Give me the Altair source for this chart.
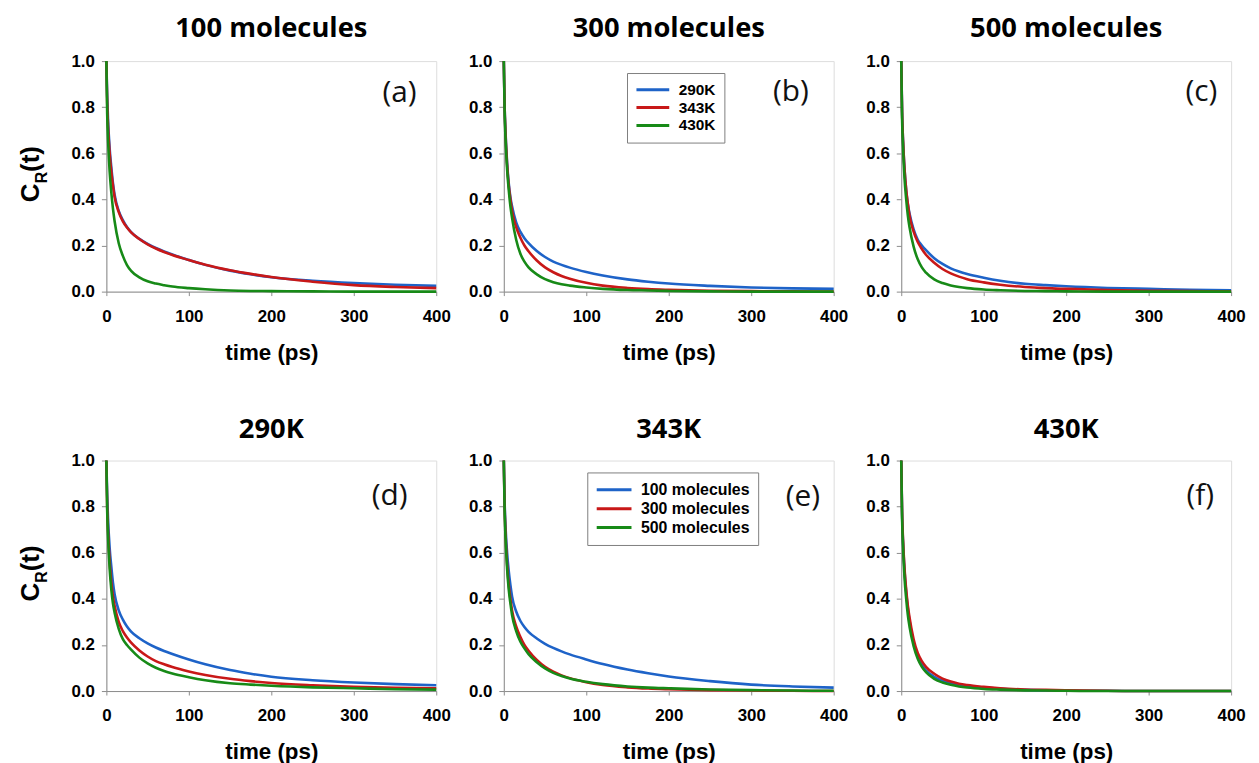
import altair as alt
import pandas as pd

# ---------------- data ----------------
T_PS = [0, 1, 2, 4, 6, 8, 10, 15, 20, 25, 30, 40, 50, 60, 70, 80, 100, 120, 150, 175, 200, 250, 300, 350, 400]

N100_T290 = [1.0, 0.85, 0.75, 0.62, 0.54, 0.47, 0.42, 0.35, 0.31, 0.28, 0.258, 0.229, 0.207, 0.189, 0.174, 0.161, 0.137, 0.116, 0.091, 0.075, 0.062, 0.047, 0.037, 0.03, 0.025]
N100_T343 = [1.0, 0.82, 0.72, 0.6, 0.52, 0.46, 0.41, 0.345, 0.305, 0.278, 0.257, 0.228, 0.205, 0.187, 0.172, 0.159, 0.137, 0.117, 0.093, 0.077, 0.063, 0.043, 0.028, 0.02, 0.015]
N100_T430 = [1.0, 0.77, 0.66, 0.52, 0.43, 0.36, 0.305, 0.21, 0.155, 0.115, 0.09, 0.062, 0.045, 0.035, 0.028, 0.022, 0.015, 0.01, 0.005, 0.003, 0.002, 0.001, 0.0, 0.0, 0.0]

N300_T290 = [1.0, 0.8, 0.7, 0.56, 0.47, 0.41, 0.37, 0.3, 0.26, 0.232, 0.21, 0.176, 0.15, 0.13, 0.116, 0.104, 0.085, 0.07, 0.053, 0.043, 0.035, 0.025, 0.018, 0.014, 0.012]
N300_T343 = [1.0, 0.8, 0.69, 0.55, 0.46, 0.4, 0.35, 0.28, 0.235, 0.2, 0.175, 0.135, 0.105, 0.084, 0.068, 0.056, 0.038, 0.026, 0.016, 0.011, 0.008, 0.004, 0.002, 0.001, 0.0]
N300_T430 = [1.0, 0.78, 0.67, 0.53, 0.44, 0.37, 0.32, 0.225, 0.165, 0.13, 0.105, 0.075, 0.054, 0.041, 0.032, 0.026, 0.018, 0.012, 0.007, 0.005, 0.003, 0.001, 0.0, 0.0, 0.0]

N500_T290 = [1.0, 0.78, 0.67, 0.53, 0.44, 0.38, 0.34, 0.27, 0.225, 0.2, 0.18, 0.145, 0.12, 0.101, 0.087, 0.076, 0.06, 0.047, 0.034, 0.028, 0.023, 0.016, 0.012, 0.008, 0.006]
N500_T343 = [1.0, 0.78, 0.67, 0.53, 0.44, 0.38, 0.33, 0.26, 0.215, 0.185, 0.16, 0.125, 0.098, 0.079, 0.065, 0.054, 0.04, 0.03, 0.02, 0.015, 0.012, 0.007, 0.004, 0.002, 0.001]
N500_T430 = [1.0, 0.75, 0.64, 0.49, 0.4, 0.33, 0.28, 0.195, 0.14, 0.105, 0.082, 0.053, 0.037, 0.027, 0.02, 0.015, 0.009, 0.006, 0.003, 0.002, 0.001, 0.0, 0.0, 0.0, 0.0]

MOLECULES = [100, 300, 500]
TEMPS = ["290K", "343K", "430K"]
MOL_LABELS = ["100 molecules", "300 molecules", "500 molecules"]
TOP_TITLES = ["100 molecules", "300 molecules", "500 molecules"]
BOTTOM_TITLES = ["290K", "343K", "430K"]
TAGS_TOP = ["(a)", "(b)", "(c)"]
TAGS_BOTTOM = ["(d)", "(e)", "(f)"]
X_TICKS = [0, 100, 200, 300, 400]
Y_TICKS = [0.0, 0.2, 0.4, 0.6, 0.8, 1.0]

CURVES = {
    (100, "290K"): N100_T290, (100, "343K"): N100_T343, (100, "430K"): N100_T430,
    (300, "290K"): N300_T290, (300, "343K"): N300_T343, (300, "430K"): N300_T430,
    (500, "290K"): N500_T290, (500, "343K"): N500_T343, (500, "430K"): N500_T430,
}
COLORS = ["#1e63c8", "#c81818", "#178a17"]

rows = []
for (n, temp), vals in CURVES.items():
    for t, v in zip(T_PS, vals):
        rows.append({"t": t, "mol": n, "temp": temp, "molname": f"{n} molecules", "c": v})
long_df = pd.DataFrame(rows)

# ---------------- styling ----------------
W, H = 332, 232
GRAY = "#8c8c8c"
AX_FONT = "Liberation Sans"

XAXIS = alt.Axis(values=X_TICKS, title="time (ps)", format="d", grid=False,
                 labelFont=AX_FONT, labelFontWeight="bold", labelFontSize=17, labelColor="black",
                 labelPadding=13, labelFlush=False, labelOverlap=False,
                 titleFont=AX_FONT, titleFontWeight="bold", titleFontSize=22.5, titleColor="black",
                 titlePadding=17, tickSize=4, tickColor=GRAY, domainColor=GRAY)
YAXIS = alt.Axis(values=Y_TICKS, title=None, format=".1f", grid=False,
                 labelFont=AX_FONT, labelFontWeight="bold", labelFontSize=17, labelColor="black",
                 labelPadding=7, labelFlush=False, labelOverlap=False,
                 tickSize=5, tickColor=GRAY, domainColor=GRAY)


def make_legend(lx, ly, fsize, line_len, row_step):
    return alt.Legend(orient="none", legendX=lx, legendY=ly, title=None, direction="vertical",
                      symbolType="stroke", symbolStrokeWidth=3, symbolSize=line_len * line_len,
                      clipHeight=row_step,
                      labelFont=AX_FONT, labelFontWeight="bold", labelFontSize=fsize,
                      labelColor="black", labelOffset=8, strokeColor="#7f7f7f",
                      fillColor="white", padding=8, rowPadding=0)


def panel(df, order, title, title_offset, tag, tag_x, tag_y, legend, ylab):
    layers = []
    for s in order:
        layers.append(
            alt.Chart(df).transform_filter(alt.datum.series == s)
            .mark_line(strokeWidth=2.6, interpolate="monotone")
            .encode(
                x=alt.X("t:Q", scale=alt.Scale(domain=[0, 400], nice=False), axis=XAXIS),
                y=alt.Y("c:Q", scale=alt.Scale(domain=[0, 1], nice=False), axis=YAXIS),
                color=alt.Color("series:N", scale=alt.Scale(domain=order, range=COLORS),
                                legend=legend),
            )
        )
    layers.append(
        alt.Chart(pd.DataFrame({"tag": [tag]}))
        .mark_text(font="Open Sans", fontSize=30, align="center", baseline="middle", color="#111")
        .encode(x=alt.value(tag_x), y=alt.value(tag_y), text="tag:N")
    )
    if ylab:
        for txt, fs, xx, yy in [("C", 26, -68, 142), ("R", 16, -60, 123), ("(t)", 26, -68, 111.5)]:
            layers.append(
                alt.Chart(pd.DataFrame({"s": [txt]}))
                .mark_text(font=AX_FONT, fontWeight="bold", fontSize=fs, angle=270,
                           align="left", baseline="alphabetic", color="black")
                .encode(x=alt.value(xx), y=alt.value(yy), text="s:N")
            )
    return alt.layer(*layers).properties(
        width=W, height=H,
        title=alt.TitleParams(text=title, font="Open Sans", fontWeight="bold", fontSize=27.5,
                              color="black", anchor="middle", offset=title_offset),
    )


top_tag_pos = [(295, 32), (289, 31), (302, 31)]
bot_tag_pos = [(285, 36), (301, 37), (301, 36)]

panels = []
for i, n in enumerate(MOLECULES):
    d = long_df[long_df["mol"] == n][["t", "c", "temp"]].rename(columns={"temp": "series"})
    leg = make_legend(124, 12, 15.5, 33, 17.5) if i == 1 else None
    panels.append(panel(d, TEMPS, TOP_TITLES[i], 10, TAGS_TOP[i],
                        top_tag_pos[i][0], top_tag_pos[i][1], leg, i == 0))
for i, temp in enumerate(TEMPS):
    d = long_df[long_df["temp"] == temp][["t", "c", "molname"]].rename(columns={"molname": "series"})
    leg = make_legend(84, 12, 16, 35, 19) if i == 1 else None
    panels.append(panel(d, MOL_LABELS, BOTTOM_TITLES[i], 8, TAGS_BOTTOM[i],
                        bot_tag_pos[i][0], bot_tag_pos[i][1], leg, i == 0))

chart = (
    alt.concat(*panels, columns=3, spacing={"row": 170, "column": 68}, bounds="flush")
    .resolve_scale(color="independent")
    .resolve_legend(color="independent")
    .properties(padding={"left": 9, "top": 4, "right": 5, "bottom": 0})
    .configure_view(stroke=GRAY, strokeWidth=1)
    .configure(background="white")
)

chart.save("out.html", embed_options={"renderer": "svg", "actions": False})
